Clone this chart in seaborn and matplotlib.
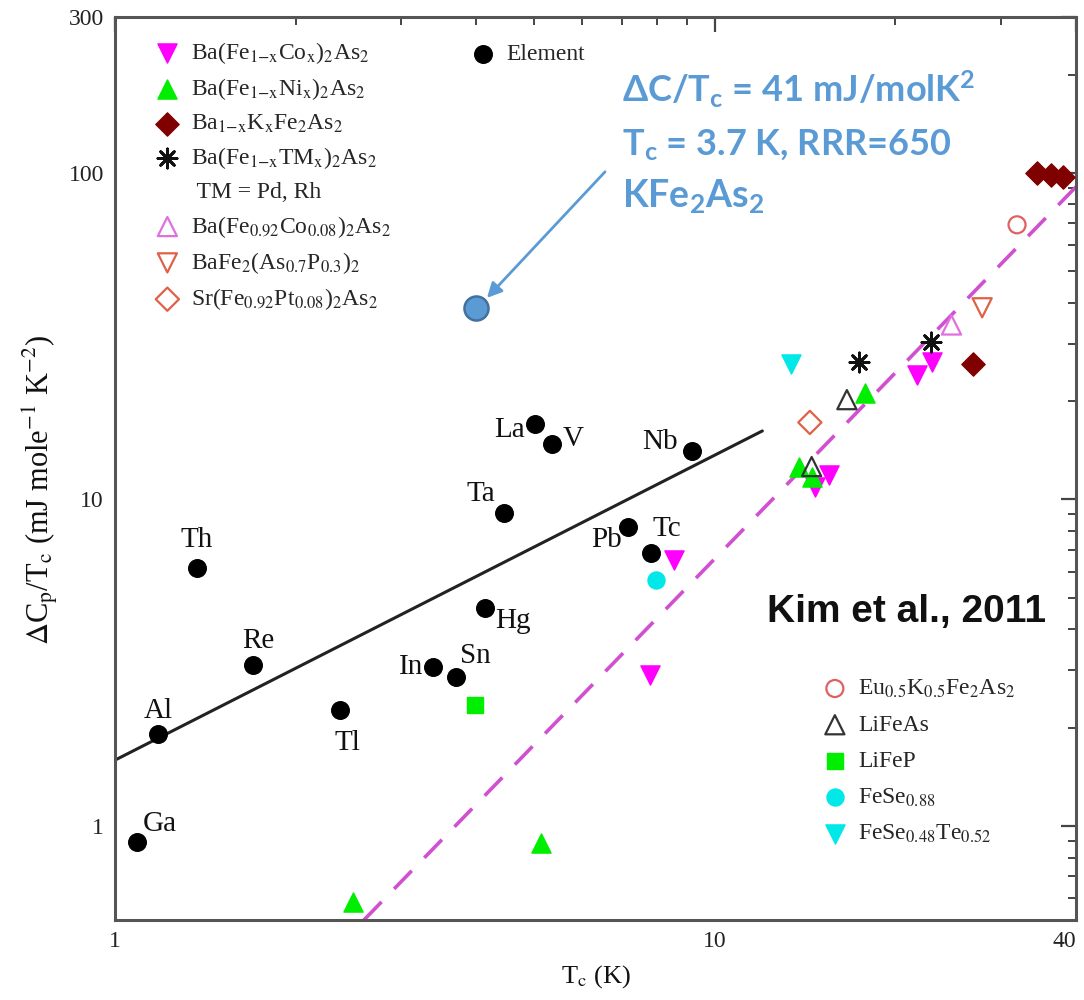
import numpy as np
import matplotlib
matplotlib.use("Agg")
import matplotlib.pyplot as plt
import seaborn as sns
from matplotlib.lines import Line2D
import matplotlib.ticker as mticker

# ---------------- data ----------------
elements = ['Ga', 'Al', 'Th', 'Re', 'Tl', 'In', 'Sn', 'Hg', 'Ta', 'La', 'V', 'Pb', 'Tc', 'Nb']
el_tc = [1.088, 1.18, 1.37, 1.70, 2.37, 3.39, 3.70, 4.14, 4.45, 5.01, 5.35, 7.17, 7.83, 9.15]
el_dc = [0.893, 1.91, 6.17, 3.11, 2.27, 3.07, 2.86, 4.65, 9.1, 17.0, 14.8, 8.24, 6.86, 14.08]

co_tc = [8.54, 7.80, 14.7, 15.5, 21.7, 23.0]
co_dc = [6.53, 2.90, 10.9, 11.9, 24.1, 26.4]
ni_tc = [2.49, 5.13, 13.8, 14.5, 17.8]
ni_dc = [0.585, 0.887, 12.6, 11.7, 21.2]
k_tc = [26.9, 34.4, 36.3, 38.0]
k_dc = [26.0, 100.0, 98.5, 97.0]
tm_tc = [17.4, 22.9]
tm_dc = [26.4, 30.4]
co08_tc = [24.8]
co08_dc = [34.2]
asp_tc = [27.9]
asp_dc = [38.6]
srpt_tc = [14.4]
srpt_dc = [17.2]
eu_tc = [31.9]
eu_dc = [69.3]
lifeas_tc = [16.6, 14.5]
lifeas_dc = [20.2, 12.6]
lifep_tc = [3.98]
lifep_dc = [2.35]
fese_tc = [7.97]
fese_dc = [5.67]
fesete_tc = [13.4]
fesete_dc = [26.0]
kfe_tc = [4.0]
kfe_dc = [38.5]

elem_line_tc = [1.0, 12.0]
elem_line_dc = [1.59, 16.2]
bnc_line_tc = [2.60, 40.0]
bnc_line_dc = [0.515, 90.6]

x_ticks = [1, 10, 40]
x_ticklabels = ['1', '10', '40']
y_ticks = [1, 10, 100, 300]
y_ticklabels = ['1', '10', '100', '300']

# ---------------- style ----------------
sns.set_theme(style="white")
plt.rcParams['font.family'] = ['Liberation Serif', 'DejaVu Serif']
plt.rcParams['mathtext.fontset'] = 'stix'

W, H = 1084, 1000
fig = plt.figure(figsize=(W / 100, H / 100), dpi=100)
ax = fig.add_axes([115 / W, 80 / H, 961 / W, 903 / H])
ax.set_xscale('log')
ax.set_yscale('log')

# lines
sns.lineplot(x=elem_line_tc, y=elem_line_dc, ax=ax, color='#222222', lw=2.2, zorder=2)
sns.lineplot(x=bnc_line_tc, y=bnc_line_dc, ax=ax, color='#D050D0', lw=2.6, zorder=2)
ax.lines[-1].set_dashes((7, 5))

handles = {}

def scat(x, y, key, marker, s, fc, ec, lw=1.0, z=3):
    sns.scatterplot(x=x, y=y, ax=ax, marker=marker, s=s, facecolor=fc,
                    edgecolor=ec, linewidth=lw, zorder=z, legend=False)
    handles[key] = ax.collections[-1]

scat(el_tc, el_dc, 'el', 'o', 160, '#000000', '#000000')
scat(co_tc, co_dc, 'co', 'v', 190, '#FF00FF', '#FF00FF')
scat(ni_tc, ni_dc, 'ni', '^', 190, '#00EE00', '#00EE00')
scat(k_tc, k_dc, 'k', 'D', 140, '#800000', '#800000')
scat(tm_tc, tm_dc, 'tm', (8, 2, 0), 190, '#111111', '#111111', lw=2.0)
scat(co08_tc, co08_dc, 'co08', '^', 190, 'none', '#E070E0', lw=1.6)
scat(asp_tc, asp_dc, 'asp', 'v', 190, 'none', '#E06048', lw=1.6)
scat(srpt_tc, srpt_dc, 'srpt', 'D', 140, 'none', '#E06048', lw=1.6)
scat(eu_tc, eu_dc, 'eu', 'o', 150, 'none', '#E06060', lw=1.6)
scat(lifeas_tc, lifeas_dc, 'lifeas', '^', 190, 'none', '#333333', lw=1.6)
scat(lifep_tc, lifep_dc, 'lifep', 's', 130, '#00EE00', '#00EE00')
scat(fese_tc, fese_dc, 'fese', 'o', 150, '#00E8E8', '#00E8E8')
scat(fesete_tc, fesete_dc, 'fesete', 'v', 190, '#00E8E8', '#00E8E8')
scat(kfe_tc, kfe_dc, 'kfe', 'o', 300, '#5B9BD5', '#41719C', lw=1.8, z=5)

# element labels (offsets in pixels, screen up = positive)
el_offsets = {
    'Ga': (6, 18, 'left'), 'Al': (0, 23, 'center'), 'Th': (0, 28, 'center'),
    'Re': (5, 24, 'center'), 'Tl': (8, -33, 'center'), 'In': (-10, 0, 'right'),
    'Sn': (4, 21, 'left'), 'Hg': (10, -13, 'left'), 'Ta': (-9, 19, 'right'),
    'La': (-10, -6, 'right'), 'V': (11, 5, 'left'), 'Pb': (-6, -13, 'right'),
    'Tc': (1, 24, 'left'), 'Nb': (-14, 9, 'right'),
}
for name, xv, yv in zip(elements, el_tc, el_dc):
    dx, dy, ha = el_offsets[name]
    ax.annotate(name, (xv, yv), xytext=(dx, dy), textcoords='offset pixels',
                ha=ha, va='center', fontsize=21, color='#111111')

# axes limits / ticks
ax.set_xlim(1, 40)
ax.set_ylim(0.515, 300)
ax.xaxis.set_major_locator(mticker.FixedLocator(x_ticks))
ax.xaxis.set_major_formatter(mticker.FixedFormatter(x_ticklabels))
ax.xaxis.set_minor_locator(mticker.FixedLocator([2, 3, 4, 5, 6, 7, 8, 9, 20, 30]))
ax.xaxis.set_minor_formatter(mticker.NullFormatter())
ax.yaxis.set_major_locator(mticker.FixedLocator(y_ticks))
ax.yaxis.set_major_formatter(mticker.FixedFormatter(y_ticklabels))
ax.yaxis.set_minor_locator(mticker.FixedLocator(
    [0.6, 0.7, 0.8, 0.9, 2, 3, 4, 5, 6, 7, 8, 9, 20, 30, 40, 50, 60, 70, 80, 90, 200]))
ax.yaxis.set_minor_formatter(mticker.NullFormatter())
ax.tick_params(which='both', direction='in', top=True, right=True, color='#444444',
               labelsize=17, labelcolor='#222222', pad=8)
ax.tick_params(which='major', length=11, width=1.6)
ax.tick_params(which='minor', length=6, width=1.4)
for sp in ax.spines.values():
    sp.set_color('#555555')
    sp.set_linewidth(2.2)
fig.canvas.draw()
xt = ax.get_xticklabels()
xt[-1].set_horizontalalignment('right')

ax.set_xlabel(r'T$_\mathrm{c}$ (K)', fontsize=19, color='#111111', labelpad=8)
ax.set_ylabel(r'$\Delta$C$_\mathrm{p}$/T$_\mathrm{c}$ (mJ mole$^{-1}$ K$^{-2}$)', fontsize=22,
              color='#111111')
ax.yaxis.set_label_coords(-0.057, 0.476)

# legends
blank = Line2D([], [], linestyle='none', marker=None)
leg1_keys = ['co', 'ni', 'k', 'tm', None, 'co08', 'asp', 'srpt']
leg1_labels = [r'Ba(Fe$_{1\mathrm{-x}}$Co$_\mathrm{x}$)$_2$As$_2$',
               r'Ba(Fe$_{1\mathrm{-x}}$Ni$_\mathrm{x}$)$_2$As$_2$',
               r'Ba$_{1\mathrm{-x}}$K$_\mathrm{x}$Fe$_2$As$_2$',
               r'Ba(Fe$_{1\mathrm{-x}}$TM$_\mathrm{x}$)$_2$As$_2$',
               ' TM = Pd, Rh',
               r'Ba(Fe$_{0.92}$Co$_{0.08}$)$_2$As$_2$',
               r'BaFe$_2$(As$_{0.7}$P$_{0.3}$)$_2$',
               r'Sr(Fe$_{0.92}$Pt$_{0.08}$)$_2$As$_2$']
h1 = [handles[k] if k else blank for k in leg1_keys]
leg1 = ax.legend(h1, leg1_labels, loc='upper left', bbox_to_anchor=(0.025, 0.99),
                 frameon=False, fontsize=17, labelspacing=0.44, handletextpad=0.4,
                 handlelength=1.2, scatterpoints=1, borderaxespad=0.2)
ax.add_artist(leg1)

leg2 = ax.legend([handles['el']], ['Element'], loc='upper left',
                 bbox_to_anchor=(0.353, 0.986), frameon=False, fontsize=17,
                 handletextpad=0.4, handlelength=1.2, scatterpoints=1, borderaxespad=0.2)
ax.add_artist(leg2)

leg3_keys = ['eu', 'lifeas', 'lifep', 'fese', 'fesete']
leg3_labels = [r'Eu$_{0.5}$K$_{0.5}$Fe$_2$As$_2$', 'LiFeAs', 'LiFeP',
               r'FeSe$_{0.88}$', r'FeSe$_{0.48}$Te$_{0.52}$']
leg3 = ax.legend([handles[k] for k in leg3_keys], leg3_labels, loc='upper left',
                 bbox_to_anchor=(0.7196, 0.284), frameon=False, fontsize=17,
                 labelspacing=0.61, handletextpad=0.4, handlelength=1.2,
                 scatterpoints=1, borderaxespad=0.2)

# annotation
blue = '#5B9BD5'
plt.rcParams['mathtext.rm'] = 'Lato:bold'
plt.rcParams['mathtext.it'] = 'Lato:bold'
plt.rcParams['mathtext.bf'] = 'Lato:bold'
ann_lines = [r'$\Delta$C/T$_\mathrm{c}$ = 41 mJ/molK$^2$',
             r'T$_\mathrm{c}$ = 3.7 K, RRR=650',
             r'KFe$_2$As$_2$']
ann_base = [102, 155, 207]
ann_size = [26, 26, 27]
for txt, yb, fs in zip(ann_lines, ann_base, ann_size):
    ax.text((622 - 115) / 961, (920 - yb) / 903, txt, transform=ax.transAxes,
            fontsize=fs, fontweight='bold', color=blue, family=['Lato', 'DejaVu Sans'],
            math_fontfamily='custom', ha='left', va='baseline', zorder=6)
ax.annotate('', xy=(4.17, 41.4), xytext=(6.56, 100.7),
            arrowprops=dict(arrowstyle='-|>', color=blue, lw=2, mutation_scale=22,
                            shrinkA=0, shrinkB=0), zorder=6)

fig.text(907 / W, 1 - 612 / H, 'Kim et al., 2011', fontsize=28,
         family=['Liberation Sans', 'DejaVu Sans'], fontweight='bold',
         color='#111111', ha='center', va='center')

fig.savefig('out.png', dpi=100)
